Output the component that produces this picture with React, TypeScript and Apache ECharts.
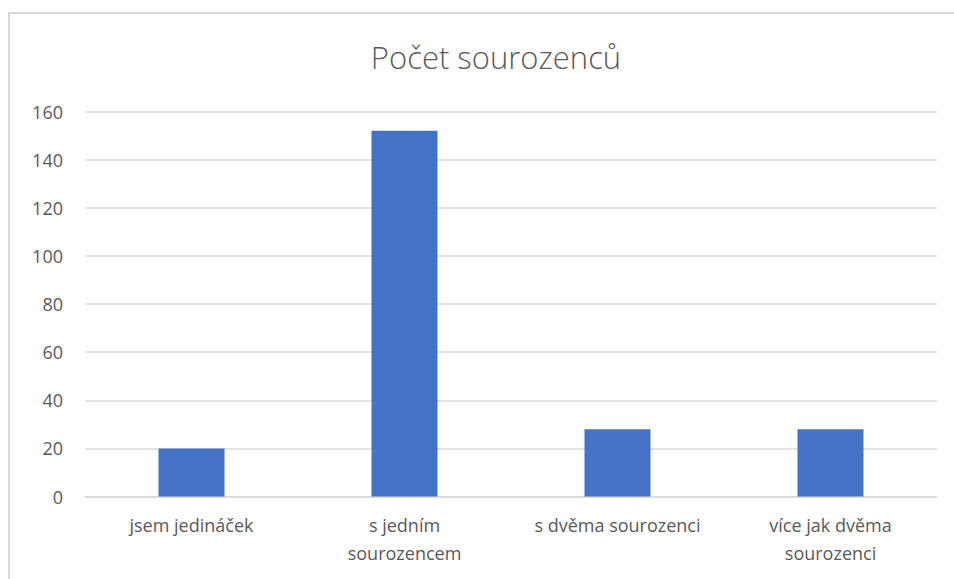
import React, { useEffect, useRef } from "react";
import * as echarts from "echarts";

const titleText = "Počet sourozenců";
const categories = [
  "jsem jedináček",
  "s jedním\nsourozencem",
  "s dvěma sourozenci",
  "více jak dvěma\nsourozenci",
];
const values = [20, 152, 28, 28];
const yMin = 0;
const yMax = 160;
const yInterval = 20;

export default function App() {
  const ref = useRef<HTMLDivElement>(null);
  useEffect(() => {
    document.body.style.margin = "0";
    const chart = echarts.init(ref.current!, null, { renderer: "svg" });
    const font = "'Open Sans', 'Noto Sans', sans-serif";
    chart.setOption({
      animation: false,
      backgroundColor: "#ffffff",
      textStyle: { fontFamily: font },
      title: {
        text: titleText,
        left: 491,
        top: 36,
        textAlign: "center",
        textStyle: {
          fontFamily: font,
          fontSize: 31,
          fontWeight: 300,
          color: "#595959",
        },
      },
      graphic: [
        {
          type: "rect",
          shape: { x: 9, y: 13, width: 960, height: 600 },
          style: { fill: "none", stroke: "#d9d9d9", lineWidth: 2 },
          silent: true,
        },
      ],
      grid: { left: 85, right: 17, top: 111.5, bottom: 82.5 },
      xAxis: {
        type: "category",
        data: categories,
        axisLine: { lineStyle: { color: "#d9d9d9", width: 1.5 } },
        axisTick: { show: false },
        axisLabel: {
          color: "#595959",
          fontSize: 18,
          fontFamily: font,
          lineHeight: 28,
          margin: 14,
          interval: 0,
        },
      },
      yAxis: {
        type: "value",
        min: yMin,
        max: yMax,
        interval: yInterval,
        axisLine: { show: false },
        axisTick: { show: false },
        splitLine: { lineStyle: { color: "#d9d9d9", width: 1.5 } },
        axisLabel: {
          color: "#595959",
          fontSize: 18,
          fontFamily: font,
          margin: 22,
        },
      },
      series: [
        {
          type: "bar",
          data: values,
          barWidth: "31%",
          itemStyle: { color: "#4472C4" },
        },
      ],
    });
    return () => chart.dispose();
  }, []);
  return (
    <div
      ref={ref}
      style={{ position: "fixed", left: 0, top: 0, width: 954, height: 579 }}
    />
  );
}
